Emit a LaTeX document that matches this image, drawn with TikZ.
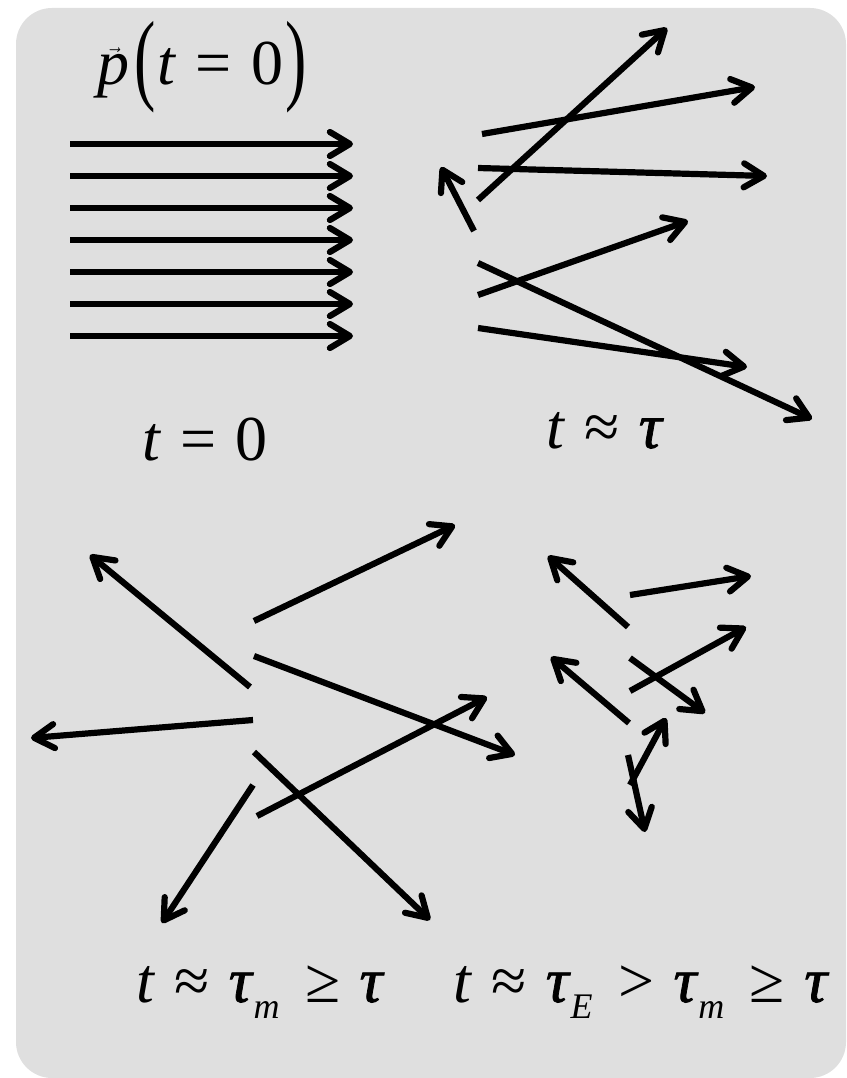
\documentclass[tikz,border=0pt]{standalone}
\usepackage{graphicx}
\usepackage{fontspec}
\setmainfont{Liberation Serif}
\usetikzlibrary{arrows.meta}
\definecolor{panelgray}{RGB}{223,223,223}
\newcommand{\lowsub}[1]{\raisebox{-16pt}{\fontsize{36}{36}\selectfont\textit{#1}}}
\newcommand{\tallparen}[1]{\raisebox{-7pt}{\scalebox{1}[1.58]{#1}}}
\newcommand{\rsp}{\hspace{0.3em}}
\newcommand{\tauh}{\textit{\addfontfeatures{FakeBold=1.2}τ}}
\tikzset{
  arr/.style={-{Straight Barb[length=20pt,width=24pt,round]}, line width=6.2pt},
  lbl/.style={font=\fontsize{64}{66}\selectfont, inner sep=0pt, anchor=base west}
}

\begin{document}
\begin{tikzpicture}[x=1pt,y=-1pt]
  \useasboundingbox (0,0) rectangle (846,1078);
  \fill[panelgray, rounded corners=36pt] (16,8) rectangle (846,1078);

  % t = 0 : all parallel
  \foreach \yy in {144,176,208,240,272,304,336}
    \draw[arr] (70,\yy) -- (353,\yy);
  \node[lbl] (pzero) at (97,85) {$\vec{\textit{p}}$\hspace{5pt}\tallparen{(}\hspace{2pt}\textit{t}\rsp=\rsp0\hspace{2pt}\tallparen{)}};
  \node[lbl] (tzero) at (142,460) {\textit{t}\rsp=\rsp0};

  % t ~ tau
  \foreach \xa/\ya/\xb/\yb in {478/200/667/28, 482/134/755/87, 478/168/767/176,
      474/231/441/167, 478/295/688/221, 478/263/812/419, 478/328/747/367}
    \draw[arr] (\xa,\ya) -- (\xb,\yb);
  \node[lbl] (ttau) at (546,448) {\textit{t}\rsp≈\rsp\tauh};

  % t ~ tau_m
  \foreach \xa/\ya/\xb/\yb in {250/687/90/555, 254/621/455/525, 254/656/515/755,
      253/720/31/738, 254/752/430/920, 253/785/162/923, 257/816/487/697}
    \draw[arr] (\xa,\ya) -- (\xb,\yb);
  \node[lbl] (ttaum) at (136,1002) {\textit{t}\rsp≈\rsp\tauh\lowsub{m}\hspace{0.4em}≥\rsp\tauh};

  % t ~ tau_E
  \foreach \xa/\ya/\xb/\yb in {628/627/548/556, 630/595/751/576, 630/691/746/627,
      630/658/705/713, 629/723/551/657, 630/785/666/718, 628/755/645/832}
    \draw[arr] (\xa,\ya) -- (\xb,\yb);
  \node[lbl] (ttaue) at (453,1002) {\textit{t}\rsp≈\rsp\tauh\lowsub{E}\hspace{0.4em}>\rsp\tauh\lowsub{m}\hspace{0.4em}≥\rsp\tauh};
\end{tikzpicture}
\end{document}
